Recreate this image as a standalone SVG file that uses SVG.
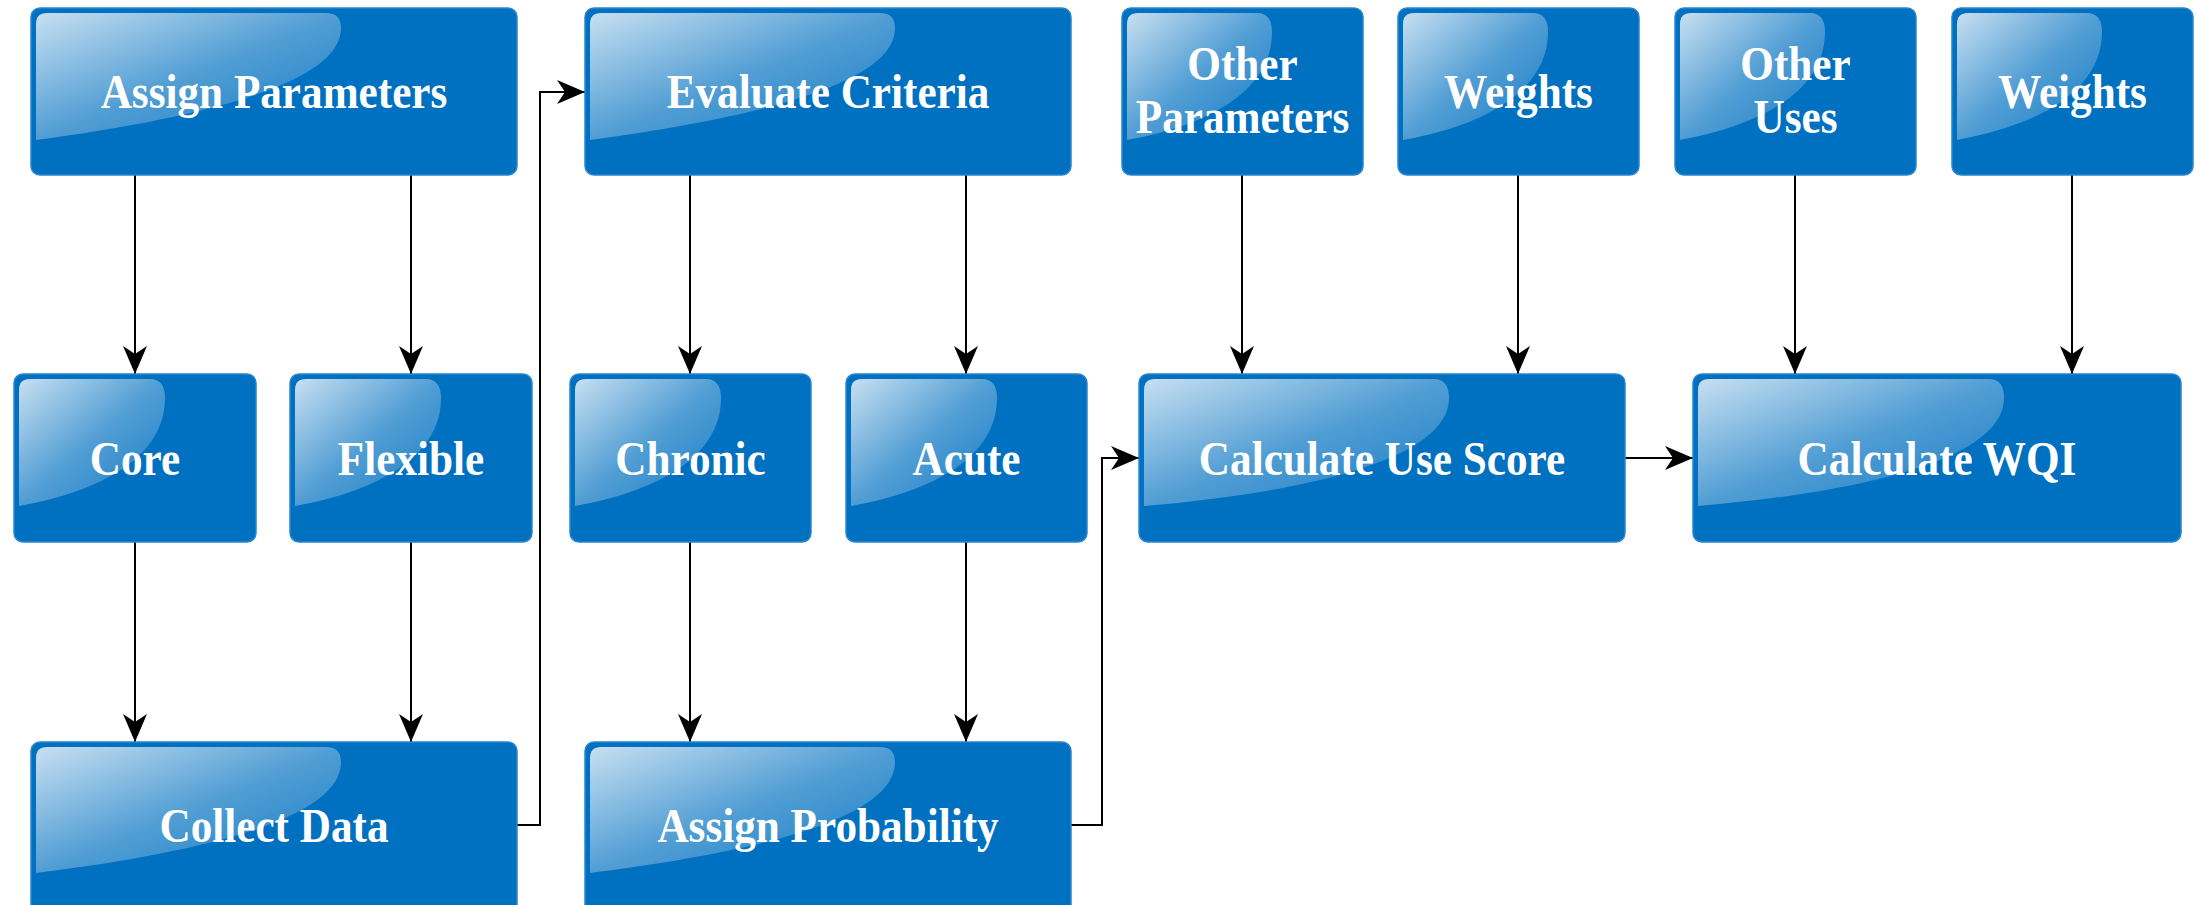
<svg xmlns="http://www.w3.org/2000/svg" width="2196" height="905" viewBox="0 0 2196 905">
<defs>
<style>
.box{fill:#0070c0;stroke:#2a86cf;stroke-width:1.5}
.hl{fill:url(#gloss)}
.t{font-family:"Liberation Serif","Times New Roman",serif;font-weight:bold;font-size:48px;fill:#ffffff;text-anchor:middle}
.c{fill:none;stroke:#000;stroke-width:2}
</style>
<linearGradient id="gloss" x1="0" y1="0" x2="1" y2="1">
<stop offset="0" stop-color="#ffffff" stop-opacity="0.78"/>
<stop offset="0.5" stop-color="#ffffff" stop-opacity="0.32"/>
<stop offset="1" stop-color="#ffffff" stop-opacity="0.08"/>
</linearGradient>
<marker id="arr" markerUnits="userSpaceOnUse" markerWidth="32" markerHeight="26" refX="28" refY="12" orient="auto">
<path d="M0,0 L28,12 L0,24 L8,12 Z" fill="#000"/>
</marker>
</defs>
<rect width="2196" height="905" fill="#ffffff"/>

<g id="connectors">
<path class="c" d="M135,175 V374" marker-end="url(#arr)"/>
<path class="c" d="M411,175 V374" marker-end="url(#arr)"/>
<path class="c" d="M135,542 V742" marker-end="url(#arr)"/>
<path class="c" d="M411,542 V742" marker-end="url(#arr)"/>
<path class="c" d="M517,825 H540 V92 H585" marker-end="url(#arr)"/>
<path class="c" d="M690,175 V374" marker-end="url(#arr)"/>
<path class="c" d="M966,175 V374" marker-end="url(#arr)"/>
<path class="c" d="M690,542 V742" marker-end="url(#arr)"/>
<path class="c" d="M966,542 V742" marker-end="url(#arr)"/>
<path class="c" d="M1071,825 H1102 V458 H1139" marker-end="url(#arr)"/>
<path class="c" d="M1242,175 V374" marker-end="url(#arr)"/>
<path class="c" d="M1518,175 V374" marker-end="url(#arr)"/>
<path class="c" d="M1795,175 V374" marker-end="url(#arr)"/>
<path class="c" d="M2072,175 V374" marker-end="url(#arr)"/>
<path class="c" d="M1625,458 H1693" marker-end="url(#arr)"/>
</g>

<g id="assign-parameters">
<rect class="box" x="31" y="8" width="486" height="167" rx="9"/>
<path class="hl" d="M36,24 Q36,13 47,13 L326,13 Q341,13 341,28 C341,80 220,115 36,140 Z"/>
<text class="t" transform="translate(274 108) scale(0.9 1)">Assign Parameters</text>
</g>

<g id="evaluate-criteria">
<rect class="box" x="585" y="8" width="486" height="167" rx="9"/>
<path class="hl" d="M590,24 Q590,13 601,13 L880,13 Q895,13 895,28 C895,80 774,115 590,140 Z"/>
<text class="t" transform="translate(828 108) scale(0.9 1)">Evaluate Criteria</text>
</g>

<g id="other-parameters">
<rect class="box" x="1122" y="8" width="241" height="167" rx="9"/>
<path class="hl" d="M1127,24 Q1127,13 1138,13 L1257,13 Q1272,13 1272,32 C1272,90 1210,125 1127,140 Z"/>
<text class="t" transform="translate(1242.5 80) scale(0.9 1)">Other</text>
<text class="t" transform="translate(1242.5 133) scale(0.9 1)">Parameters</text>
</g>

<g id="weights-1">
<rect class="box" x="1398" y="8" width="241" height="167" rx="9"/>
<path class="hl" d="M1403,24 Q1403,13 1414,13 L1533,13 Q1548,13 1548,32 C1548,90 1486,125 1403,140 Z"/>
<text class="t" transform="translate(1518.5 108) scale(0.9 1)">Weights</text>
</g>

<g id="other-uses">
<rect class="box" x="1675" y="8" width="241" height="167" rx="9"/>
<path class="hl" d="M1680,24 Q1680,13 1691,13 L1810,13 Q1825,13 1825,32 C1825,90 1763,125 1680,140 Z"/>
<text class="t" transform="translate(1795.5 80) scale(0.9 1)">Other</text>
<text class="t" transform="translate(1795.5 133) scale(0.9 1)">Uses</text>
</g>

<g id="weights-2">
<rect class="box" x="1952" y="8" width="241" height="167" rx="9"/>
<path class="hl" d="M1957,24 Q1957,13 1968,13 L2087,13 Q2102,13 2102,32 C2102,90 2040,125 1957,140 Z"/>
<text class="t" transform="translate(2072.5 108) scale(0.9 1)">Weights</text>
</g>

<g id="core">
<rect class="box" x="14" y="374" width="242" height="168" rx="9"/>
<path class="hl" d="M19,390 Q19,379 30,379 L150,379 Q165,379 165,398 C165,456 103,491 19,506 Z"/>
<text class="t" transform="translate(135 475) scale(0.9 1)">Core</text>
</g>

<g id="flexible">
<rect class="box" x="290" y="374" width="242" height="168" rx="9"/>
<path class="hl" d="M295,390 Q295,379 306,379 L426,379 Q441,379 441,398 C441,456 379,491 295,506 Z"/>
<text class="t" transform="translate(411 475) scale(0.9 1)">Flexible</text>
</g>

<g id="chronic">
<rect class="box" x="570" y="374" width="241" height="168" rx="9"/>
<path class="hl" d="M575,390 Q575,379 586,379 L706,379 Q721,379 721,398 C721,456 659,491 575,506 Z"/>
<text class="t" transform="translate(690.5 475) scale(0.9 1)">Chronic</text>
</g>

<g id="acute">
<rect class="box" x="846" y="374" width="241" height="168" rx="9"/>
<path class="hl" d="M851,390 Q851,379 862,379 L982,379 Q997,379 997,398 C997,456 935,491 851,506 Z"/>
<text class="t" transform="translate(966.5 475) scale(0.9 1)">Acute</text>
</g>

<g id="calculate-use-score">
<rect class="box" x="1139" y="374" width="486" height="168" rx="9"/>
<path class="hl" d="M1144,390 Q1144,379 1155,379 L1434,379 Q1449,379 1449,398 C1449,456 1320,491 1144,506 Z"/>
<text class="t" transform="translate(1382 475) scale(0.9 1)">Calculate Use Score</text>
</g>

<g id="calculate-wqi">
<rect class="box" x="1693" y="374" width="488" height="168" rx="9"/>
<path class="hl" d="M1698,390 Q1698,379 1709,379 L1989,379 Q2004,379 2004,398 C2004,456 1875,491 1698,506 Z"/>
<text class="t" transform="translate(1937 475) scale(0.9 1)">Calculate WQI</text>
</g>

<g id="collect-data">
<rect class="box" x="31" y="742" width="486" height="172" rx="9"/>
<path class="hl" d="M36,758 Q36,747 47,747 L326,747 Q341,747 341,762 C341,815 220,850 36,873 Z"/>
<text class="t" transform="translate(274 842) scale(0.9 1)">Collect Data</text>
</g>

<g id="assign-probability">
<rect class="box" x="585" y="742" width="486" height="172" rx="9"/>
<path class="hl" d="M590,758 Q590,747 601,747 L880,747 Q895,747 895,762 C895,815 774,850 590,873 Z"/>
<text class="t" transform="translate(828 842) scale(0.9 1)">Assign Probability</text>
</g>
</svg>
